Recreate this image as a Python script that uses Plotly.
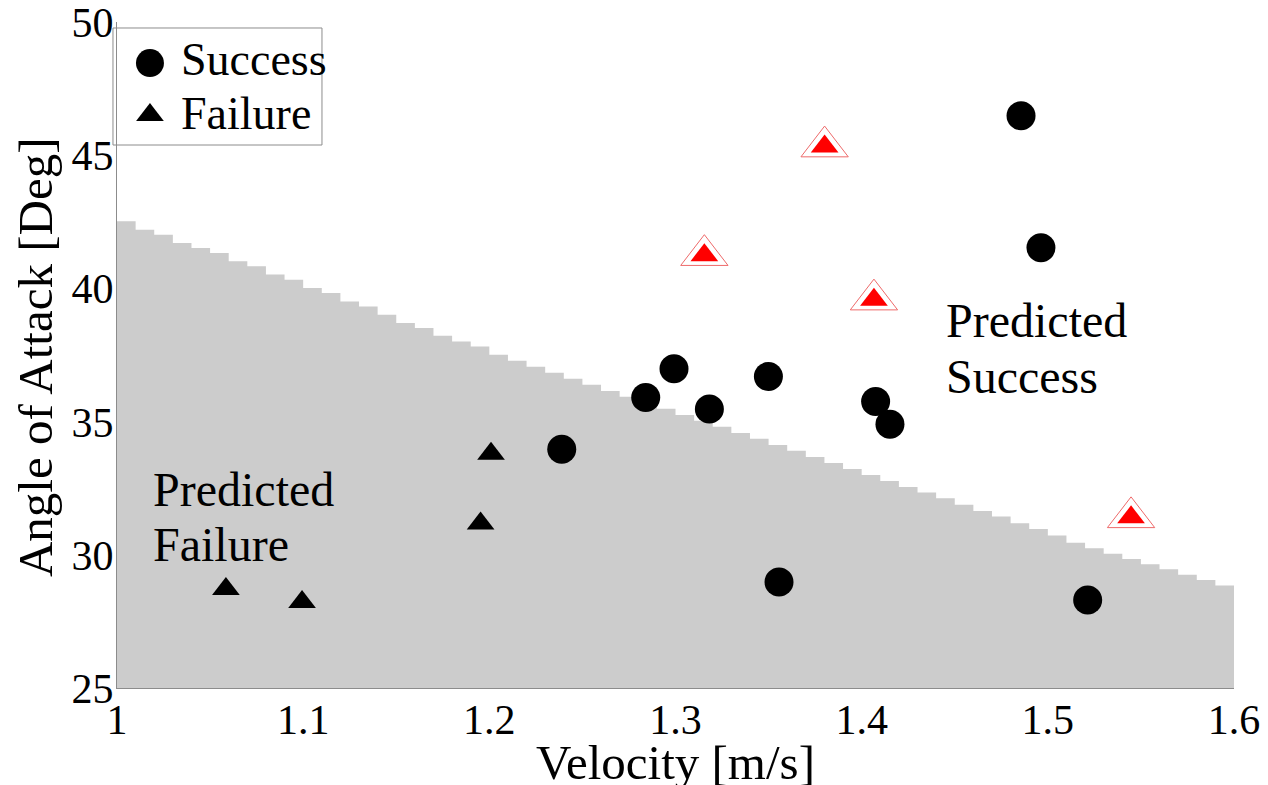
import plotly.graph_objects as go

# ---- data ----
success_v = [1.2389, 1.2840, 1.2992, 1.3182, 1.3499, 1.4075, 1.4152, 1.4856, 1.4963, 1.3556, 1.5214]
success_a = [33.97, 35.91, 36.99, 35.48, 36.70, 35.76, 34.91, 46.50, 41.54, 28.98, 28.31]

failure_v = [1.0585, 1.0994, 1.1953, 1.2009]
failure_a = [28.72, 28.23, 31.18, 33.80]

# failures that lie in the predicted-success region (highlighted in red)
miss_v = [1.3801, 1.3155, 1.4066, 1.5447]
miss_a = [45.34, 41.26, 39.59, 31.41]

# predicted-failure region boundary: staircase, one step per 0.01 m/s (left edges)
boundary_v = [round(1.00 + 0.01 * i, 2) for i in range(61)]
boundary_a = [42.53, 42.22, 42.03, 41.72, 41.53, 41.34, 41.03, 40.84, 40.53, 40.34,
              40.03, 39.84, 39.52, 39.33, 39.02, 38.71, 38.52, 38.23, 38.02, 37.83,
              37.52, 37.29, 37.07, 36.84, 36.62, 36.39, 36.16, 35.94, 35.71, 35.49,
              35.26, 35.04, 34.81, 34.58, 34.36, 34.13, 33.91, 33.68, 33.45, 33.23,
              33.00, 32.78, 32.55, 32.34, 32.13, 31.88, 31.65, 31.44, 31.19, 30.97,
              30.73, 30.46, 30.25, 30.04, 29.85, 29.65, 29.46, 29.25, 29.06, 28.85,
              28.85]

x_ticks = [1.0, 1.1, 1.2, 1.3, 1.4, 1.5, 1.6]
x_tick_text = ["1", "1.1", "1.2", "1.3", "1.4", "1.5", "1.6"]
y_ticks = [25, 30, 35, 40, 45, 50]

FONT = "Liberation Serif"
GRAY = "#cccccc"

fig = go.Figure()

fig.add_trace(go.Scatter(
    x=boundary_v, y=boundary_a, mode="lines", line=dict(shape="hv", width=0, color=GRAY),
    fill="tozeroy", fillcolor=GRAY, hoverinfo="skip", showlegend=False, name="Predicted Failure"))

fig.add_trace(go.Scatter(
    x=success_v, y=success_a, mode="markers", name="Success",
    marker=dict(symbol="circle", size=29, color="black", line=dict(width=0)),
    showlegend=False))

fig.add_trace(go.Scatter(
    x=failure_v, y=failure_a, mode="markers", name="Failure",
    marker=dict(symbol="triangle-up", size=24, color="black", line=dict(width=0)),
    showlegend=False))

fig.add_trace(go.Scatter(
    x=miss_v, y=miss_a, mode="markers", name="Failure (misclassified)",
    marker=dict(symbol="triangle-up", size=41, color="white", line=dict(width=1, color="#ee6a6a")),
    showlegend=False))

fig.add_trace(go.Scatter(
    x=miss_v, y=miss_a, mode="markers", name="Failure (misclassified)",
    marker=dict(symbol="triangle-up", size=24, color="#ff0000", line=dict(width=0)),
    showlegend=False))

# custom legend symbols on an invisible overlay axis (0..1 in both directions)
fig.add_trace(go.Scatter(
    x=[0.0295], y=[0.9384], mode="markers", xaxis="x2", yaxis="y2",
    marker=dict(symbol="circle", size=28, color="black"), showlegend=False, hoverinfo="skip"))
fig.add_trace(go.Scatter(
    x=[0.0295], y=[0.8604], mode="markers", xaxis="x2", yaxis="y2",
    marker=dict(symbol="triangle-up", size=24, color="black"), showlegend=False, hoverinfo="skip"))

axis_common = dict(showgrid=False, zeroline=False, showline=True, linecolor="#8c8c8c",
                   linewidth=1, ticks="", mirror=False, ticklabeloverflow="allow",
                   automargin=False,
                   tickfont=dict(family=FONT, size=42, color="black"))

# the page body adds an 8 px offset, so margins are compensated
fig.update_layout(
    width=1268, height=785,
    margin=dict(l=109, r=42, t=14, b=105),
    paper_bgcolor="white", plot_bgcolor="white",
    font=dict(family=FONT, color="black"),
    xaxis=dict(range=[1, 1.6], tickvals=x_ticks, ticktext=x_tick_text,
               ticklabelstandoff=-5, **axis_common),
    yaxis=dict(range=[25, 50.02], tickvals=y_ticks, ticklabelstandoff=-6, **axis_common),
    xaxis2=dict(overlaying="x", range=[0, 1], visible=False, fixedrange=True, anchor="y2",
                automargin=False),
    yaxis2=dict(overlaying="y", range=[0, 1], visible=False, fixedrange=True, anchor="x2",
                automargin=False),
    showlegend=False,
)

# legend frame
fig.add_shape(type="rect", xref="paper", yref="paper",
              x0=-0.0036, x1=0.1835, y0=0.8153, y1=0.991,
              line=dict(color="#8c8c8c", width=1), fillcolor="white", layer="below")

ann = []
ann.append(dict(text="Success", xref="paper", yref="paper", x=0.0555, y=0.943,
                xanchor="left", yanchor="middle", showarrow=False, font=dict(size=46)))
ann.append(dict(text="Failure", xref="paper", yref="paper", x=0.0555, y=0.862,
                xanchor="left", yanchor="middle", showarrow=False, font=dict(size=46)))
# region labels
ann.append(dict(text="Predicted", x=1.018, y=32.45, xanchor="left", yanchor="middle",
                showarrow=False, font=dict(size=48)))
ann.append(dict(text="Failure", x=1.018, y=30.4, xanchor="left", yanchor="middle",
                showarrow=False, font=dict(size=48)))
ann.append(dict(text="Predicted", x=1.4442, y=38.82, xanchor="left", yanchor="middle",
                showarrow=False, font=dict(size=48)))
ann.append(dict(text="Success", x=1.4442, y=36.7, xanchor="left", yanchor="middle",
                showarrow=False, font=dict(size=48)))
# axis titles
ann.append(dict(text="Velocity [m/s]", xref="paper", yref="paper", x=0.5, y=-0.1126,
                xanchor="center", yanchor="middle", showarrow=False, font=dict(size=49)))
ann.append(dict(text="Angle of Attack [Deg]", xref="paper", yref="paper", x=-0.0725, y=0.497,
                xanchor="center", yanchor="middle", textangle=-90, showarrow=False,
                font=dict(size=49)))
fig.update_layout(annotations=ann)

fig.write_html("out.html")
